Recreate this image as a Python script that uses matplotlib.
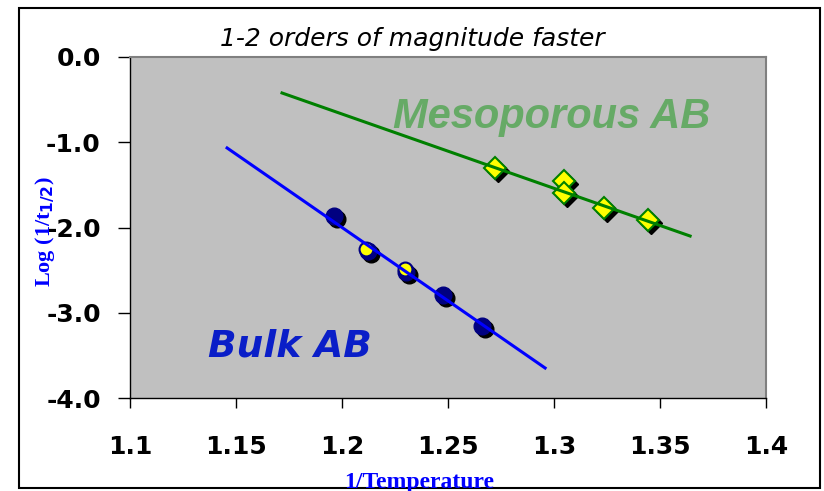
import matplotlib
matplotlib.use("Agg")
import matplotlib.pyplot as plt
import matplotlib.patches as mpatches
import matplotlib.transforms as mtransforms

# data
bulk_x = [1.196, 1.2123, 1.2302, 1.2476, 1.266]
bulk_y = [-1.87, -2.28, -2.52, -2.79, -3.15]
bulk_yellow_x = [1.2115, 1.2295]
bulk_yellow_y = [-2.25, -2.49]
meso_x = [1.2722, 1.3047, 1.3047, 1.3236, 1.3443]
meso_y = [-1.30, -1.455, -1.60, -1.77, -1.91]

bulk_fit_x = [1.1458, 1.2958]
bulk_fit_y = [-1.067, -3.648]
meso_fit_x = [1.1717, 1.3642]
meso_fit_y = [-0.422, -2.10]

xticks = [1.1, 1.15, 1.2, 1.25, 1.3, 1.35, 1.4]
xtick_labels = ['1.1', '1.15', '1.2', '1.25', '1.3', '1.35', '1.4']
yticks = [0, -1, -2, -3, -4]
ytick_labels = ['0.0', '-1.0', '-2.0', '-3.0', '-4.0']

plt.rcParams['font.family'] = ['Liberation Sans', 'DejaVu Sans']

fig = plt.figure(figsize=(8.24, 4.91), dpi=100)
ax = fig.add_axes([130 / 824, 1 - 398 / 491, 636 / 824, 341 / 491])
ax.set_facecolor('#c0c0c0')

# outer border around the whole chart
fig.patches.append(mpatches.Rectangle((19 / 824, 1 - 488 / 491), 801 / 824, 480 / 491,
                                      transform=fig.transFigure, fill=False,
                                      edgecolor='black', linewidth=1.5))

shadow = mtransforms.offset_copy(ax.transData, fig=fig, x=3, y=-3, units='dots')

# bulk AB circles
ax.plot(bulk_x, bulk_y, 'o', ms=12, color='black', transform=shadow, zorder=2)
ax.plot(bulk_x, bulk_y, 'o', ms=12, color='#000080', mec='#000080', zorder=3)
ax.plot(bulk_yellow_x, bulk_yellow_y, 'o', ms=10, color='yellow', mec='#000080',
        mew=1.5, zorder=4)

# mesoporous AB diamonds
ax.plot(meso_x, meso_y, 'D', ms=11, color='black', transform=shadow, zorder=2)
ax.plot(meso_x, meso_y, 'D', ms=11, color='yellow', mec='#008000', mew=1.5, zorder=3)

# fitted lines
ax.plot(bulk_fit_x, bulk_fit_y, color='#0000ff', lw=2.2, zorder=5)
ax.plot(meso_fit_x, meso_fit_y, color='#008000', lw=2.2, zorder=5)

ax.text(1.224, -0.70, 'Mesoporous AB', color='#66aa66', fontsize=30,
        fontweight='bold', fontstyle='italic', ha='left', va='center')
ax.text(1.1368, -3.40, 'Bulk AB', color='#0a1ec8', fontsize=27,
        fontweight='bold', fontstyle='italic', ha='left', va='center',
        family='DejaVu Sans')

fig.text(412 / 824, 1 - 39 / 491, '1-2 orders of magnitude faster', fontsize=18,
         fontstyle='italic', ha='center', va='center', family='DejaVu Sans')

ax.set_xlim(1.1, 1.4)
ax.set_ylim(-4, 0)
ax.set_xticks(xticks)
ax.set_xticklabels(xtick_labels, fontsize=18, fontweight='bold', family='DejaVu Sans')
ax.set_yticks(yticks)
ax.set_yticklabels(ytick_labels, fontsize=18, fontweight='bold', family='DejaVu Sans')
ax.tick_params(axis='y', direction='out', length=9, width=1, pad=12)
ax.tick_params(axis='x', direction='out', length=7, width=1, pad=20)

for s in ['top', 'right']:
    ax.spines[s].set_color('#808080')
    ax.spines[s].set_linewidth(1.5)
for s in ['left', 'bottom']:
    ax.spines[s].set_color('black')
    ax.spines[s].set_linewidth(1)

fig.text(45 / 824, 1 - 232 / 491, r'Log (1/t$_{\mathbf{1/2}}$)', rotation=90,
         color='blue', fontsize=16, fontweight='bold', family='Liberation Serif',
         ha='center', va='center')
fig.text(419 / 824, 3 / 491, '1/Temperature', color='blue', fontsize=17,
         fontweight='bold', family='Liberation Serif', ha='center', va='baseline')

fig.savefig('out.png', dpi=100)
